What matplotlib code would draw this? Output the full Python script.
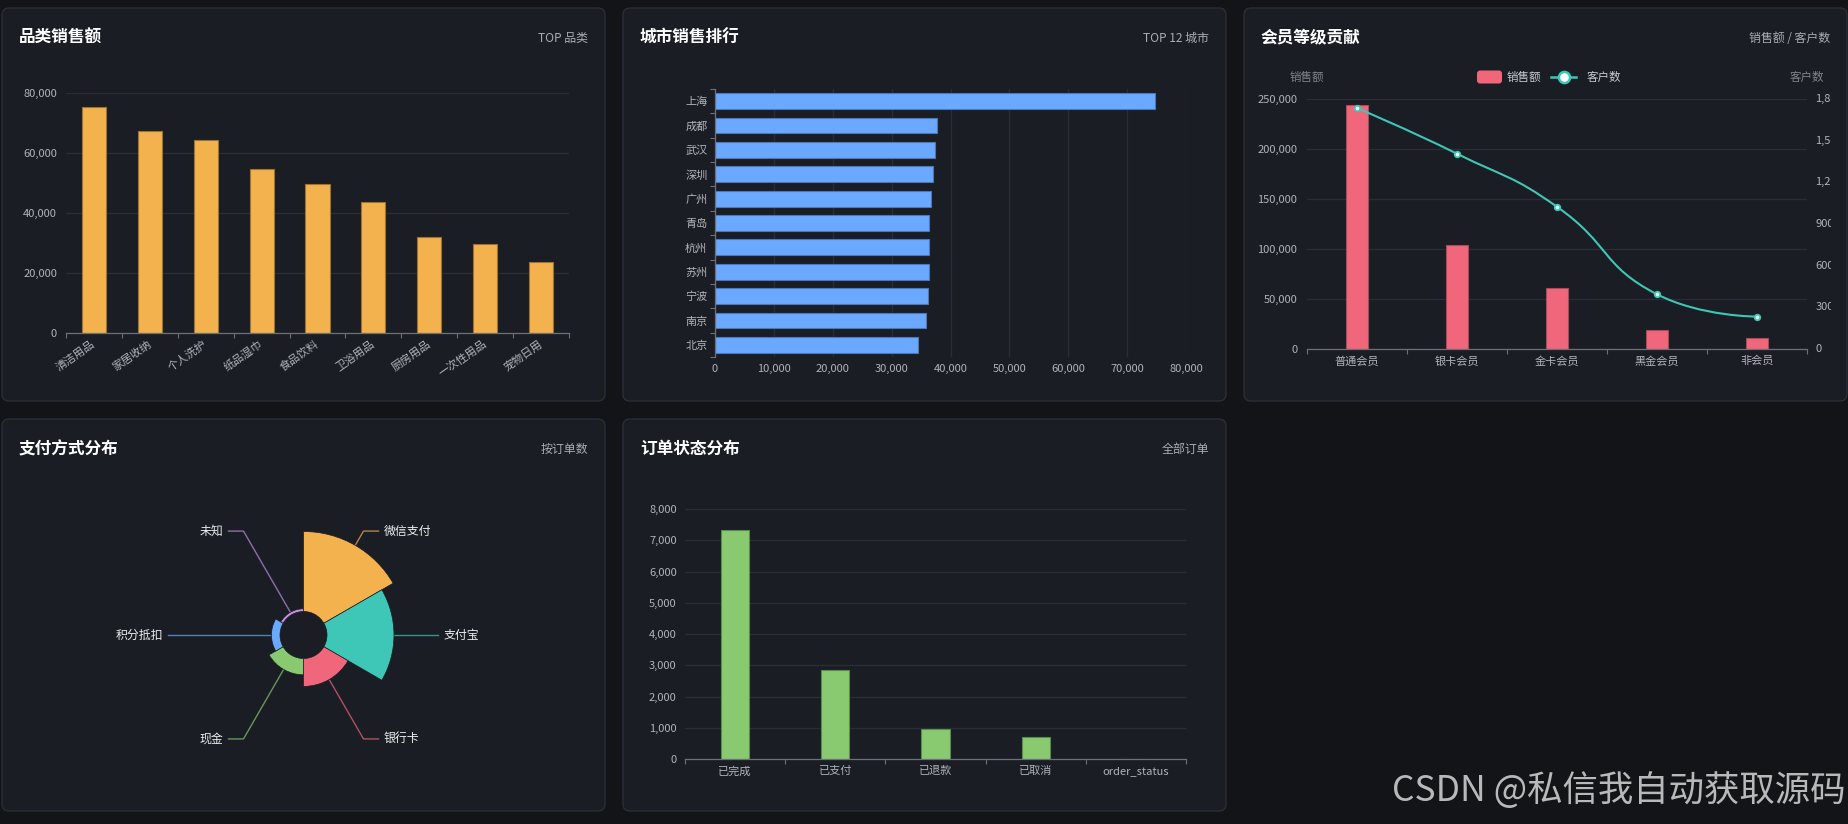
import numpy as np
import matplotlib

matplotlib.use("Agg")
import matplotlib.pyplot as plt
from matplotlib.lines import Line2D
from matplotlib.patches import FancyBboxPatch, PathPatch
from matplotlib.path import Path
from matplotlib.ticker import FuncFormatter, MultipleLocator
from matplotlib.transforms import Bbox, TransformedBbox, offset_copy

plt.rcParams["font.family"] = ["Noto Sans CJK SC", "DejaVu Sans"]

# ---- data -------------------------------------------------------------
category_names = ["清洁用品", "家居收纳", "个人洗护", "纸品湿巾", "食品饮料",
                  "卫浴用品", "厨房用品", "一次性用品", "宠物日用"]
category_sales = [75300, 67200, 64200, 54700, 49700, 43800, 31900, 29700, 23600]

city_names = ["上海", "成都", "武汉", "深圳", "广州", "青岛", "杭州", "苏州", "宁波", "南京", "北京"]
city_sales = [74800, 37650, 37400, 37000, 36700, 36400, 36350, 36300, 36100, 35800, 34500]

member_levels = ["普通会员", "银卡会员", "金卡会员", "黑金会员", "非会员"]
member_sales = [244300, 104500, 60700, 19400, 11000]
member_customers = [1735, 1406, 1024, 394, 233]

pay_methods = ["微信支付", "支付宝", "银行卡", "现金", "积分抵扣", "未知"]
pay_orders = [4670, 3910, 1630, 950, 500, 160]

order_status = ["已完成", "已支付", "已退款", "已取消", "order_status"]
order_counts = [7316, 2841, 972, 694, 0]

# ---- style ------------------------------------------------------------
W, H = 1849, 824
BG = "#121418"
PANEL = "#1a1d24"
BORDER = "#2c3038"
GRID = "#2a2d35"
AXIS = "#6e7079"
LABEL = "#b0b4bd"
DIM = "#7f848d"
SUB = "#a8adb6"
ORANGE, ORANGE_EDGE = "#f4b24e", "#9a7433"
BLUE, BLUE_EDGE = "#6aa9ff", "#4a78b8"
PINK, PINK_EDGE = "#f0677b", "#a84a58"
TEAL = "#3ec6b6"
GREEN, GREEN_EDGE = "#89ca71", "#5c8a4c"
PIE_COLORS = [ORANGE, TEAL, PINK, GREEN, BLUE, "#c490e4"]

thousands = FuncFormatter(lambda v, _: f"{v:,.0f}")

fig = plt.figure(figsize=(W / 100, H / 100), dpi=100, facecolor=BG)

# full-figure canvas in pixel coordinates (y downwards)
bg = fig.add_axes([0, 0, 1, 1], zorder=-1)
bg.set_xlim(0, W)
bg.set_ylim(H, 0)
bg.axis("off")


def px_axes(left, top, right, bottom, **kw):
    ax = fig.add_axes([left / W, 1 - bottom / H, (right - left) / W, (bottom - top) / H], **kw)
    ax.set_facecolor("none")
    return ax


def panel(box, title, subtitle):
    x0, y0, x1, y1 = box
    bg.add_patch(FancyBboxPatch((x0, y0), x1 - x0, y1 - y0,
                                boxstyle="round,pad=0,rounding_size=7",
                                facecolor=PANEL, edgecolor=BORDER, lw=0.9))
    bg.text(x0 + 17, y0 + 30, title, color="white", fontsize=12, fontweight="bold",
            ha="left", va="center")
    bg.text(x1 - 17, y0 + 30, subtitle, color=SUB, fontsize=8.6, ha="right", va="center")


def cat_axes(ax, n, axis="x"):
    for s in ax.spines.values():
        s.set_visible(False)
    spine = ax.spines["bottom" if axis == "x" else "left"]
    spine.set_visible(True)
    spine.set_color(AXIS)
    spine.set_linewidth(0.9)
    ax.tick_params(colors=LABEL, labelsize=8, length=0)
    target = ax.xaxis if axis == "x" else ax.yaxis
    target.set_ticks(np.arange(-0.5, n, 1), minor=True)
    ax.tick_params(axis=axis, which="minor", length=3.6, width=0.8, color=AXIS, direction="out")
    ax.set_axisbelow(True)
    ax.grid(axis="y" if axis == "x" else "x", which="major", color=GRID, lw=0.9)


boxes = [(2, 8, 605, 401), (623, 8, 1226, 401), (1244, 8, 1847, 401),
         (2, 419, 605, 811), (623, 419, 1226, 811)]
panel(boxes[0], "品类销售额", "TOP 品类")
panel(boxes[1], "城市销售排行", "TOP 12 城市")
panel(boxes[2], "会员等级贡献", "销售额 / 客户数")
panel(boxes[3], "支付方式分布", "按订单数")
panel(boxes[4], "订单状态分布", "全部订单")

# ---- 1. category sales --------------------------------------------------
ax1 = px_axes(66, 93, 569, 333)
x1 = np.arange(len(category_names))
ax1.bar(x1, category_sales, width=0.43, color=ORANGE, edgecolor=ORANGE_EDGE, lw=0.8)
ax1.set_xlim(-0.5, len(category_names) - 0.5)
ax1.set_ylim(0, 80000)
ax1.yaxis.set_major_locator(MultipleLocator(20000))
ax1.yaxis.set_major_formatter(thousands)
cat_axes(ax1, len(category_names), "x")
ax1.set_xticks(x1)
ax1.set_xticklabels(category_names, rotation=35, ha="right", va="center", rotation_mode="anchor")
ax1.tick_params(axis="x", which="major", pad=7)
ax1.tick_params(axis="y", pad=6.5)

# ---- 2. city ranking ---------------------------------------------------
ax2 = px_axes(715, 89, 1186, 357)
y2 = np.arange(len(city_names))
ax2.barh(y2, city_sales, height=0.65, color=BLUE, edgecolor=BLUE_EDGE, lw=0.8)
ax2.set_ylim(len(city_names) - 0.5, -0.5)
ax2.set_xlim(0, 80000)
ax2.xaxis.set_major_locator(MultipleLocator(10000))
ax2.xaxis.set_major_formatter(thousands)
cat_axes(ax2, len(city_names), "y")
ax2.set_yticks(y2)
ax2.set_yticklabels(city_names)
ax2.tick_params(axis="y", which="major", pad=5.5)
ax2.tick_params(axis="x", pad=5)

# ---- 3. member levels --------------------------------------------------
ax3 = px_axes(1307, 99, 1807, 349)
x3 = np.arange(len(member_levels))
ax3.bar(x3, member_sales, width=0.22, color=PINK, edgecolor=PINK_EDGE, lw=0.8)
ax3.set_xlim(-0.5, len(member_levels) - 0.5)
ax3.set_ylim(0, 250000)
ax3.yaxis.set_major_locator(MultipleLocator(50000))
ax3.yaxis.set_major_formatter(thousands)
cat_axes(ax3, len(member_levels), "x")
ax3.set_xticks(x3)
ax3.set_xticklabels(member_levels)
ax3.tick_params(axis="x", which="major", pad=5)
ax3.tick_params(axis="y", pad=7)

ax3b = ax3.twinx()
ax3b.set_facecolor("none")
ax3b.set_ylim(0, 1800)
ax3b.set_yticks([])
for s in ax3b.spines.values():
    s.set_visible(False)

# right axis labels, clipped by the panel padding like the original
clip = TransformedBbox(Bbox.from_extents(0, 0, 1831 / W, 1), fig.transFigure)
right_tr = offset_copy(ax3b.get_yaxis_transform(), fig=fig, x=8.5, y=0, units="dots")
for v in range(0, 1801, 300):
    t = ax3b.text(1.0, v, f"{v:,}", transform=right_tr, color=LABEL, fontsize=8,
                  ha="left", va="center")
    t.set_clip_path(None)
    t.set_clip_box(clip)
    t.set_clip_on(True)


def echarts_smooth(pts, smooth=0.5):
    verts, codes = [pts[0]], [Path.MOVETO]
    cp0 = pts[0].copy()
    n = len(pts)
    for k in range(1, n):
        prev, p = pts[k - 1], pts[k]
        ncp0 = None
        if k == n - 1:
            cp1 = p.copy()
        else:
            nxt = pts[k + 1]
            v = nxt - prev
            len_prev = np.hypot(*(p - prev))
            len_next = np.hypot(*(nxt - p))
            ratio = len_next / (len_next + len_prev)
            ncp0 = p + v * smooth * ratio
            ncp0 = np.maximum(np.minimum(ncp0, np.maximum(nxt, p)), np.minimum(nxt, p))
            v = ncp0 - p
            cp1 = p - v * len_prev / len_next
            cp1 = np.maximum(np.minimum(cp1, np.maximum(prev, p)), np.minimum(prev, p))
            v = p - cp1
            ncp0 = p + v * len_next / len_prev
        verts += [cp0, cp1, p]
        codes += [Path.CURVE4] * 3
        cp0 = ncp0
    return np.array(verts), codes


pts = ax3b.transData.transform(np.column_stack([x3, member_customers]))
verts, codes = echarts_smooth(pts)
curve = Path(ax3b.transData.inverted().transform(verts), codes)
ax3b.add_patch(PathPatch(curve, facecolor="none", edgecolor=TEAL, lw=1.5, zorder=3))
ax3b.plot(x3, member_customers, "o", ms=4, mfc="#e8fbf7", mec=TEAL, mew=1.3, zorder=4,
          clip_on=False)

# axis names and legend
bg.text(1307, 77, "销售额", color=DIM, fontsize=8.3, ha="center", va="center")
bg.text(1807, 77, "客户数", color=DIM, fontsize=8.3, ha="center", va="center")
bg.add_patch(FancyBboxPatch((1477, 70.5), 25, 13, boxstyle="round,pad=0,rounding_size=3",
                            facecolor=PINK, edgecolor="none"))
bg.text(1507, 77, "销售额", color="#c9ccd3", fontsize=8.3, ha="left", va="center")
bg.add_line(Line2D([1551, 1576], [77, 77], color=TEAL, lw=1.8))
bg.plot([1563.5], [77], "o", ms=8, mfc="white", mec=TEAL, mew=1.8)
bg.text(1587, 77, "客户数", color="#c9ccd3", fontsize=8.3, ha="left", va="center")

# ---- 4. payment rose ---------------------------------------------------
cx, cy, r_out, r_in = 303.5, 635, 103.5, 23.5
ax4 = px_axes(cx - r_out, cy - r_out, cx + r_out, cy + r_out, projection="polar")
vmax = max(pay_orders)
ax4.set_theta_zero_location("N")
ax4.set_theta_direction(-1)
ax4.set_ylim(0, vmax)
ax4.set_rorigin(-vmax * r_in / (r_out - r_in))
step = 2 * np.pi / len(pay_methods)
theta = np.arange(len(pay_methods)) * step
bars = ax4.bar(theta, pay_orders, width=step, bottom=0, align="edge",
               color=PIE_COLORS, edgecolor=PANEL, lw=0.5)
for b in bars:
    b.set_clip_on(False)
ax4.axis("off")

to_bg = bg.transData.inverted()
center = to_bg.transform(ax4.transAxes.transform((0.5, 0.5)))
for name, val, th, col in zip(pay_methods, pay_orders, theta + step / 2, PIE_COLORS):
    edge = to_bg.transform(ax4.transData.transform((th, val)))
    d = (edge - center) / np.hypot(*(edge - center))
    bend = center + 120 * d
    side = 1 if d[0] >= 0 else -1
    end = bend + np.array([15 * side, 0])
    bg.add_line(Line2D([edge[0], bend[0], end[0]], [edge[1], bend[1], end[1]],
                       color=col, alpha=0.7, lw=1))
    bg.text(end[0] + 5 * side, end[1], name, color="#eeeeee", fontsize=8.6,
            ha="left" if side > 0 else "right", va="center")

# ---- 5. order status ---------------------------------------------------
ax5 = px_axes(685, 509, 1186, 759)
x5 = np.arange(len(order_status))
ax5.bar(x5, order_counts, width=0.28, color=GREEN, edgecolor=GREEN_EDGE, lw=0.8)
ax5.set_xlim(-0.5, len(order_status) - 0.5)
ax5.set_ylim(0, 8000)
ax5.yaxis.set_major_locator(MultipleLocator(1000))
ax5.yaxis.set_major_formatter(thousands)
cat_axes(ax5, len(order_status), "x")
ax5.set_xticks(x5)
ax5.set_xticklabels(order_status)
ax5.tick_params(axis="x", which="major", pad=5)
ax5.tick_params(axis="y", pad=6)

# watermark
bg.text(1845, 791, "CSDN @私信我自动获取源码", color="#b9b9b9", fontsize=25.5,
        ha="right", va="center")

fig.savefig("out.png", dpi=100, facecolor=BG)
